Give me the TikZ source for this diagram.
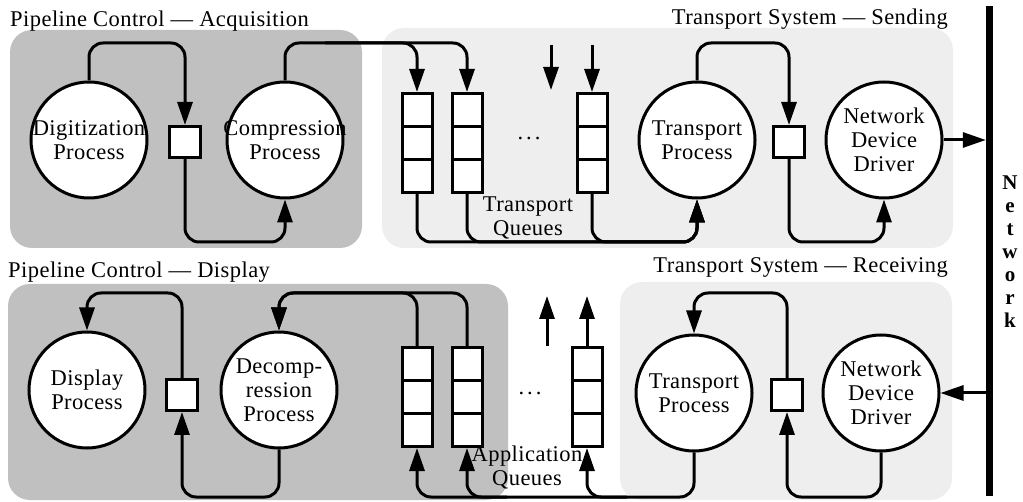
\documentclass[tikz,border=0pt]{standalone}
\usepackage{fontspec}
\setmainfont{Liberation Serif}[LetterSpace=2]
\usepackage{tikz}
\usetikzlibrary{arrows.meta,calc}
\usepackage{xcolor}
\definecolor{pipegray}{RGB}{192,192,192}
\definecolor{transgray}{RGB}{238,238,238}
\newcommand{\diagfont}{\fontsize{22.5}{24}\selectfont}

\begin{document}
\begin{tikzpicture}[x=1pt, y=-1pt,
        proc/.style={circle, draw, line width=3pt, fill=white, minimum size=116pt, inner sep=-10pt, align=center, font=\diagfont},
        buf/.style={draw, line width=3pt, fill=white, minimum size=31pt, inner sep=0pt},
        cell/.style={draw, line width=3pt, fill=white, minimum width=30pt, minimum height=33pt, inner sep=0pt},
        conn/.style={-{Triangle[length=23pt,width=15pt]}, line width=3pt, rounded corners=14pt},
        heading/.style={font=\diagfont, inner sep=0pt},
        area/.style={rounded corners=22pt}
    ]
        \useasboundingbox (0,0) rectangle (1023,502);

        \fill[pipegray, area] (10,30) rectangle (362,248);
        \fill[transgray, area] (382,28) rectangle (953,248);
        \fill[pipegray, area] (8,284) rectangle (508,500);
        \fill[transgray, area] (620,282) rectangle (952,500);

        \node[heading, anchor=base west] (tAcq) at (10,27) {Pipeline Control — Acquisition};
        \node[heading, anchor=base east] (tSend) at (948,25) {Transport System — Sending};
        \node[heading, anchor=base west] (tDisp) at (8,278) {Pipeline Control — Display};
        \node[heading, anchor=base east] (tRecv) at (948,273) {Transport System — Receiving};

        % sending side
        \node[proc] (dig) at (89,140) {Digitization\\Process};
        \node[buf] (buf1) at (185,142) {};
        \node[proc] (comp) at (285,140) {Compression\\Process};
        \node[proc] (tps) at (697,140) {Transport\\Process};
        \node[buf] (buf2) at (789,142) {};
        \node[proc] (ndd) at (884,140) {Network\\Device\\Driver};

        \foreach \q/\x in {q1/417, q2/467, q3/592}
            \foreach \k in {1,2,3}
                \node[cell] (\q-\k) at (\x, 77+33*\k) {};
        \node[font=\diagfont] (dotsS) at (529,138) {.\hspace{3pt}.\hspace{3pt}.};
        \node[font=\diagfont, align=center] (tqLbl) at (528,218) {Transport\\Queues};

        % receiving side
        \node[proc] (disp) at (87,390) {Display\\Process};
        \node[buf] (buf3) at (182,395) {};
        \node[proc] (dec) at (279,390) {Decomp-\\ression\\Process};
        \node[proc] (rtp) at (694,393) {Transport\\Process};
        \node[buf] (rbuf) at (787,395) {};
        \node[proc] (rnd) at (881,393) {Network\\Device\\Driver};

        \foreach \q/\x in {qA/417, qB/467, qC/587}
            \foreach \k in {1,2,3}
                \node[cell] (\q-\k) at (\x, 331+33*\k) {};
        \node[font=\diagfont] (dotsR) at (530,393) {.\hspace{3pt}.\hspace{3pt}.};
        \node[font=\diagfont, align=center] (aqLbl) at (527,468) {Application\\Queues};

        \node[fill=black, minimum width=7pt, minimum height=490pt, inner sep=0pt] (net) at (989.5,251) {};
        \node[font=\fontsize{21}{23}\selectfont\bfseries, align=center] (netLbl) at (1010,252) {N\\e\\t\\w\\o\\r\\k};

        \coordinate (upA) at (0,43);
        \coordinate (loA) at (0,242);
        \coordinate (upB) at (0,293);
        \coordinate (loB) at (0,497);
        \coordinate (freeS) at (551,45);
        \coordinate (freeR) at (547,346);
        \coordinate (tipR) at (547,296);

        \draw[conn] (dig.north) -- (dig.north |- upA) -| (buf1.north);
        \draw[conn] (buf1.south) -- (buf1.south |- loA) -| (comp.south);
        \draw[conn] (comp.north) -- (comp.north |- upA) -| (q2-1.north);
        \draw[conn] ($(comp.north |- upA)+(40,0)$) -| (q1-1.north);
        \draw[conn] (freeS) -- ++(0,45);
        \draw[conn] (q3-1.north |- freeS) -- (q3-1.north);
        \foreach \q in {q1,q2,q3}
            \draw[conn] (\q-3.south) -- (\q-3.south |- loA) -| (tps.south);
        \draw[conn] (tps.north) -- (tps.north |- upA) -| (buf2.north);
        \draw[conn] (buf2.south) -- (buf2.south |- loA) -| (ndd.south);
        \draw[conn] (ndd.east) -- (ndd.east -| net.west);

        \draw[conn] (buf3.north) -- (buf3.north |- upB) -| (disp.north);
        \draw[conn] (dec.south) -- (dec.south |- loB) -| (buf3.south);
        \draw[conn] (qA-1.north) -- (qA-1.north |- upB) -| (dec.north);
        \draw[conn] (qB-1.north) -- (qB-1.north |- upB) -| (dec.north);
        \draw[conn] (freeR) -- (tipR);
        \draw[conn] (qC-1.north) -- (qC-1.north |- tipR);
        \draw[conn] (rtp.south) -- (rtp.south |- loB) -| (qA-3.south);
        \draw[conn] ($(qB-3.south |- loB)+(40,0)$) -| (qB-3.south);
        \draw[conn] ($(qC-3.south |- loB)+(40,0)$) -| (qC-3.south);
        \draw[conn] (rnd.south) -- (rnd.south |- loB) -| (rbuf.south);
        \draw[conn] (rbuf.north) -- (rbuf.north |- upB) -| (rtp.north);
        \draw[conn] (net.west |- rnd.east) -- (rnd.east);

    \end{tikzpicture}
\end{document}
